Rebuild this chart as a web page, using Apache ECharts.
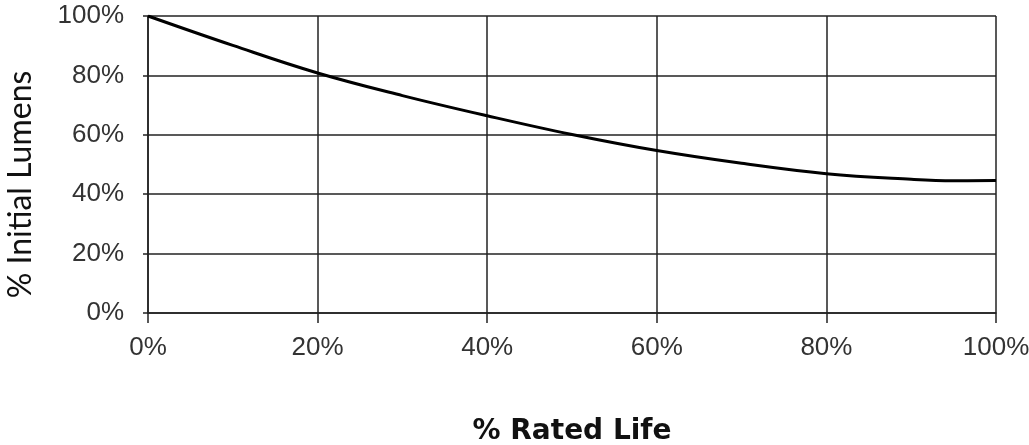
<!DOCTYPE html>
<html><head><meta charset="utf-8">
<script src="https://cdn.jsdelivr.net/npm/echarts@6/dist/echarts.min.js"></script>
<style>html,body{margin:0;padding:0;background:#fff}#c{width:1029px;height:445px}</style>
</head><body><div id="c"></div>
<script>
const ratedLife = [0, 10, 20, 30, 40, 50, 60, 70, 80, 90, 95, 100];
const initialLumens = [100, 90.1, 80.8, 73.2, 66.4, 60.1, 54.7, 50.4, 46.9, 45.0, 44.5, 44.6];
const xTicks = [0, 20, 40, 60, 80, 100];
const yTicks = [0, 20, 40, 60, 80, 100];

const chart = echarts.init(document.getElementById('c'));
const gridColor = '#222';
const tickFont = { fontFamily: '"Liberation Sans Narrow", "Liberation Sans", Arial, sans-serif', fontSize: 26, color: '#333' };
chart.setOption({
  animation: false,
  grid: { left: 148, right: 33, top: 16, bottom: 132, containLabel: false, outerBoundsMode: 'none' },
  xAxis: {
    type: 'value', min: xTicks[0], max: xTicks[xTicks.length - 1], interval: 20,
    name: '% Rated Life', nameLocation: 'middle', nameGap: 105,
    nameTextStyle: { fontFamily: '"DejaVu Sans", sans-serif', fontWeight: 'bold', fontSize: 28, color: '#111' },
    axisLine: { show: true, lineStyle: { color: gridColor, width: 1.5 } },
    axisTick: { show: true, length: 10, lineStyle: { color: gridColor, width: 1.5 } },
    axisLabel: Object.assign({ formatter: '{value}%', margin: 22 }, tickFont),
    splitLine: { show: true, lineStyle: { color: gridColor, width: 1.5 } }
  },
  yAxis: {
    type: 'value', min: yTicks[0], max: yTicks[yTicks.length - 1], interval: 20,
    name: '% Initial Lumens', nameLocation: 'middle', nameGap: 111, nameRotate: 90,
    nameTextStyle: { fontFamily: 'Lato, "Open Sans", sans-serif', fontSize: 32, color: '#111', padding: [0, 40, 0, 0] },
    axisLine: { show: true, lineStyle: { color: gridColor, width: 1.5 } },
    axisTick: { show: true, length: 5, lineStyle: { color: gridColor, width: 1.5 } },
    axisLabel: Object.assign({ formatter: '{value}%', margin: 24 }, tickFont),
    splitLine: { show: true, lineStyle: { color: gridColor, width: 1.5 } }
  },
  series: [{
    type: 'line', smooth: 0.4, symbol: 'none',
    data: ratedLife.map((x, i) => [x, initialLumens[i]]),
    lineStyle: { color: '#000', width: 3 }
  }]
});
</script></body></html>
